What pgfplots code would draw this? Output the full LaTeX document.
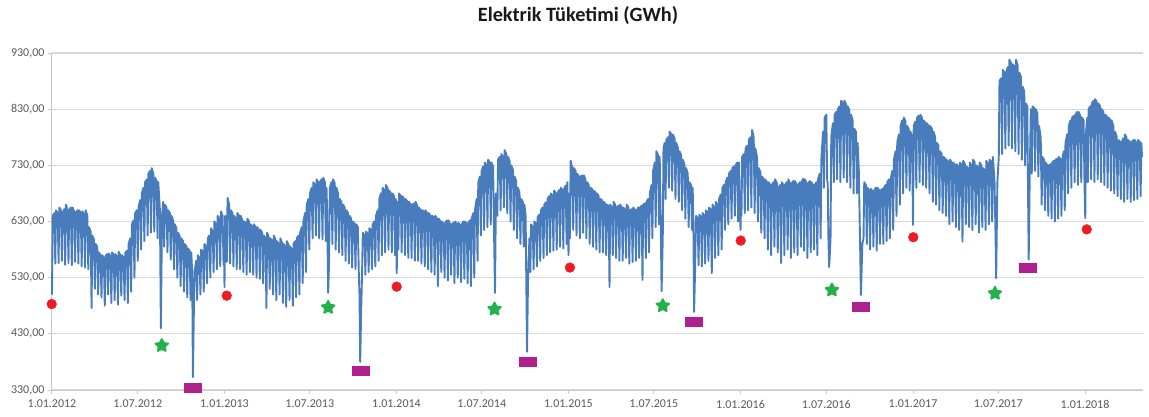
\documentclass[border=0pt]{standalone}
\usepackage{pgfplots}
\pgfplotsset{compat=1.18}
\usepackage{pgfplotstable}
\usepackage{fontspec}
\setmainfont{Carlito}
\definecolor{lineblue}{RGB}{72,124,188}
\definecolor{redc}{RGB}{237,28,36}
\definecolor{greenc}{RGB}{34,177,76}
\definecolor{magc}{RGB}{174,32,142}
\definecolor{gridc}{RGB}{217,217,217}
\definecolor{axisc}{RGB}{200,200,200}
\definecolor{labc}{RGB}{89,89,89}

\pgfdeclareplotmark{gstar}{%
 \pgfpathmoveto{\pgfpointpolar{90}{\pgfplotmarksize}}%
 \pgfpathlineto{\pgfpointpolar{126}{0.5\pgfplotmarksize}}%
 \pgfpathlineto{\pgfpointpolar{162}{\pgfplotmarksize}}%
 \pgfpathlineto{\pgfpointpolar{198}{0.5\pgfplotmarksize}}%
 \pgfpathlineto{\pgfpointpolar{234}{\pgfplotmarksize}}%
 \pgfpathlineto{\pgfpointpolar{270}{0.5\pgfplotmarksize}}%
 \pgfpathlineto{\pgfpointpolar{306}{\pgfplotmarksize}}%
 \pgfpathlineto{\pgfpointpolar{342}{0.5\pgfplotmarksize}}%
 \pgfpathlineto{\pgfpointpolar{18}{\pgfplotmarksize}}%
 \pgfpathlineto{\pgfpointpolar{54}{0.5\pgfplotmarksize}}%
 \pgfpathclose
 \pgfusepathqfillstroke}
\pgfdeclareplotmark{wrect}{%
 \pgfpathrectangle{\pgfpoint{-9pt}{-5pt}}{\pgfpoint{18pt}{10pt}}%
 \pgfusepathqfill}

\pgfplotstableread{
x y
0 500
1.5 640
5 645
7 555
8.5 650
12 645
14 556
15.5 655
19 650
21 560
22.5 645
26 652
28 553
29.5 660
33 650
35 556
36.5 650
40 655
42 552
43.5 655
47 648
49 558
50.5 645
54 650
56 555
57.5 650
61 645
63 550
64.5 648
68 642
70 548
71.5 650
75 640
77 545
78.5 620
82 612
84 476
85.5 605
89 598
91 510
92.5 590
96 585
98 500
99.5 575
103 570
105 495
106.5 570
110 565
112 480
113.5 568
117 572
119 500
120.5 573
124 568
126 485
127.5 575
131 570
133 490
134.5 572
138 566
140 482
141.5 576
145 570
147 498
148.5 570
152 566
154 490
155.5 574
159 578
161 485
162.5 590
166 600
168 505
169.5 625
173 632
175 530
176.5 645
180 650
182 560
183.5 655
187 668
189 580
190.5 680
194 690
196 595
197.5 700
201 705
203 605
204.5 715
208 720
210 610
211.5 725
215 715
217 612
218.5 708
222 702
224 600
225.5 700
229 650
231 440
233.5 640
236 665
238 585
239.5 660
243 655
245 575
246.5 650
250 645
252 562
253.5 640
257 632
259 545
260.5 625
264 618
266 530
267.5 610
271 604
273 515
274.5 600
278 595
280 505
281.5 590
285 586
287 495
288.5 582
292 578
294 490
295.5 575
297.5 540
299 353
301 470
302.5 540
306 560
308 490
309.5 570
313 565
315 500
316.5 580
320 576
322 505
323.5 590
327 585
329 520
330.5 600
334 605
336 530
337.5 618
341 612
343 540
344.5 630
348 625
350 545
351.5 640
355 635
357 550
358.5 648
362 640
364 553
365 620
366 513
367.5 640
369 630
371 558
372.5 672
376 660
378 555
379.5 650
383 645
385 550
386.5 640
390 635
392 545
393.5 645
397 640
399 545
400.5 640
404 632
406 540
407.5 630
411 628
413 535
414.5 635
418 630
420 540
421.5 625
425 620
427 535
428.5 625
432 620
434 530
435.5 620
439 615
441 528
442.5 615
446 610
448 520
449.5 605
453 600
455 476
456.5 610
460 602
462 510
463.5 600
467 595
469 500
470.5 605
474 598
476 490
477.5 595
481 590
483 500
484.5 600
488 592
490 485
491.5 590
495 585
497 478
498.5 595
502 588
504 490
505.5 585
509 580
511 480
512.5 590
516 595
518 495
519.5 600
523 605
525 500
526.5 610
530 620
532 520
533.5 630
537 645
539 540
540.5 660
544 670
546 580
547.5 680
551 690
553 600
554.5 700
558 695
560 605
561.5 705
565 700
567 600
568.5 700
572 705
574 598
575.5 708
579 700
581 595
582.5 690
584 640
586 503
588 560
589.5 690
593 700
595 590
596.5 705
600 698
602 580
603.5 690
607 680
609 575
610.5 670
614 665
616 570
617.5 660
621 655
623 560
624.5 650
628 645
630 555
631.5 640
635 635
637 548
638.5 630
642 626
644 545
645.5 625
649 620
651 540
652.5 500
654 380
656 470
658 540
659.5 610
663 605
665 535
666.5 612
670 608
672 540
673.5 618
677 615
679 545
680.5 625
684 630
686 550
687.5 640
691 650
693 560
694.5 670
698 680
700 570
701.5 690
705 685
707 575
708.5 695
712 690
714 580
715.5 685
719 680
721 575
722.5 680
726 675
728 570
729.5 670
731.5 538
733.5 665
735 580
736.5 680
740 675
742 575
743.5 675
747 670
749 570
750.5 670
754 665
756 565
757.5 665
761 660
763 565
764.5 660
768 662
770 560
771.5 665
775 658
777 560
778.5 655
782 650
784 555
785.5 650
789 648
791 550
792.5 650
796 645
798 545
799.5 645
803 640
805 540
806.5 640
810 638
812 535
813.5 640
817 635
819 515
820.5 635
824 630
826 540
827.5 630
831 625
833 530
834.5 628
838 632
840 525
841.5 632
845 625
847 535
848.5 625
852 628
854 520
855.5 630
859 625
861 530
862.5 628
866 622
868 522
869.5 625
873 630
875 528
876.5 630
880 625
882 520
883.5 628
887 632
889 515
890.5 635
894 645
896 530
897.5 650
901 670
903 560
904.5 700
908 710
910 605
911.5 720
915 728
917 615
918.5 735
922 730
924 620
925.5 740
929 735
931 625
932.5 735
936 728
938 610
940 503
942 680
945 640
946.5 740
950 745
952 650
953.5 750
957 745
959 655
960.5 757
964 750
966 645
967.5 745
971 738
973 630
974.5 730
978 722
980 615
981.5 710
985 702
987 600
988.5 690
992 682
994 590
995.5 670
999 665
1001 585
1002.5 660
1005 640
1008 398
1010 520
1013 600
1015 540
1016.5 625
1020 620
1022 545
1023.5 630
1027 626
1029 550
1030.5 638
1034 642
1036 560
1037.5 650
1041 655
1043 565
1044.5 660
1048 664
1050 570
1051.5 670
1055 675
1057 575
1058.5 680
1062 676
1064 578
1065.5 685
1069 680
1071 580
1072.5 680
1076 686
1078 585
1079.5 690
1083 686
1085 582
1086.5 688
1090 694
1092 590
1093.5 700
1096 570
1097.5 680
1099 600
1100.5 738
1104 725
1106 615
1107.5 725
1111 720
1113 605
1114.5 715
1118 710
1120 600
1121.5 710
1125 712
1127 610
1128.5 712
1132 705
1134 600
1135.5 700
1139 695
1141 590
1142.5 690
1146 688
1148 585
1149.5 685
1153 682
1155 580
1156.5 680
1160 675
1162 575
1163.5 670
1167 668
1169 575
1170.5 665
1174 662
1176 570
1177.5 660
1181 658
1183 513
1184.5 660
1188 655
1190 570
1191.5 665
1195 660
1197 565
1198.5 655
1202 658
1204 560
1205.5 660
1209 655
1211 560
1212.5 655
1216 650
1218 565
1219.5 660
1223 655
1225 555
1226.5 650
1230 652
1232 558
1233.5 655
1237 650
1239 560
1240.5 650
1244 655
1246 565
1247.5 655
1251 658
1253 526
1254.5 660
1258 662
1260 565
1261.5 665
1265 670
1267 575
1268.5 680
1272 695
1274 600
1275.5 720
1279 735
1281 620
1282.5 755
1286 748
1288 625
1289.5 745
1291.5 640
1293.5 506
1296 600
1297.5 760
1300 770
1302 670
1303.5 775
1307 780
1309 690
1310.5 790
1314 785
1316 685
1317.5 785
1321 778
1323 670
1324.5 770
1328 762
1330 665
1331.5 755
1335 748
1337 650
1338.5 740
1342 732
1344 635
1345.5 725
1349 715
1351 620
1352.5 700
1356 695
1358 615
1359.5 690
1361 620
1362.5 469
1364.5 540
1366.5 640
1370 636
1372 552
1373.5 642
1377 638
1379 550
1380.5 645
1384 640
1386 555
1387.5 650
1391 646
1393 560
1394.5 655
1398 650
1400 538
1401.5 660
1405 655
1407 565
1408.5 665
1412 660
1414 570
1415.5 670
1419 678
1421 580
1422.5 690
1426 695
1428 615
1429.5 700
1433 708
1435 625
1436.5 715
1440 720
1442 635
1443.5 725
1447 728
1449 640
1450.5 730
1454 735
1456 630
1457.5 735
1461 615
1462 660
1463 640
1464.5 745
1468 750
1470 645
1471.5 760
1475 765
1477 650
1478.5 775
1482 780
1484 655
1485.5 793
1489 780
1491 645
1492.5 760
1496 745
1498 630
1499.5 725
1503 718
1505 610
1506.5 710
1510 705
1512 600
1513.5 705
1517 700
1519 580
1520.5 700
1524 695
1526 570
1527.5 695
1531 700
1533 585
1534.5 705
1538 698
1540 575
1541.5 690
1545 695
1547 556
1548.5 700
1552 695
1554 570
1555.5 695
1559 700
1561 580
1562.5 705
1566 698
1568 565
1569.5 698
1573 702
1575 575
1576.5 702
1580 696
1582 570
1583.5 695
1587 700
1589 585
1590.5 700
1594 706
1596 578
1597.5 705
1601 698
1603 565
1604.5 698
1608 702
1610 575
1611.5 700
1615 694
1617 580
1618.5 695
1622 700
1624 570
1625.5 705
1629 715
1631 600
1632.5 740
1636 790
1638 690
1639.5 815
1643 820
1645 700
1646 700
1647.5 600
1649 549
1651 580
1652 600
1653.5 780
1657 805
1659 700
1660.5 820
1664 825
1666 705
1667.5 830
1671 835
1673 700
1674.5 845
1678 840
1680 708
1681.5 845
1685 838
1687 700
1688.5 835
1692 828
1694 690
1695.5 820
1699 810
1701 680
1702.5 795
1706 790
1708 680
1709.5 770
1712 720
1714.5 600
1716.5 499
1719.5 590
1722 600
1723.5 700
1727 695
1729 590
1730.5 690
1734 685
1736 580
1737.5 688
1741 684
1743 585
1744.5 685
1748 690
1750 578
1751.5 690
1755 686
1757 590
1758.5 685
1762 688
1764 590
1765.5 690
1769 695
1771 595
1772.5 700
1776 705
1778 600
1779.5 705
1783 720
1785 615
1786.5 740
1790 755
1792 640
1793.5 770
1797 785
1799 660
1800.5 800
1804 810
1806 680
1807.5 815
1811 808
1813 690
1814.5 800
1818 795
1820 685
1821.5 790
1825 780
1827 624
1828.5 800
1832 808
1834 690
1835.5 815
1839 818
1841 700
1842.5 820
1846 815
1848 695
1849.5 810
1853 806
1855 690
1856.5 805
1860 800
1862 680
1863.5 800
1867 795
1869 665
1870.5 790
1874 780
1876 660
1877.5 770
1881 765
1883 650
1884.5 755
1888 750
1890 645
1891.5 745
1895 742
1897 640
1898.5 740
1902 736
1904 625
1905.5 740
1909 735
1911 630
1912.5 735
1916 730
1918 620
1919.5 732
1923 728
1925 615
1926.5 735
1930 730
1932 594
1933.5 738
1937 732
1939 625
1940.5 728
1944 724
1946 620
1947.5 735
1951 730
1953 615
1954.5 740
1958 735
1960 625
1961.5 730
1965 726
1967 610
1968.5 735
1972 730
1974 620
1975.5 725
1979 722
1981 615
1982.5 738
1986 732
1988 625
1989.5 740
1993 736
1995 630
1996.5 745
2000 700
2002 610
2003.5 529
2006 700
2009 745
2010.5 880
2014 885
2016 750
2017.5 900
2021 895
2023 760
2024.5 895
2028 905
2030 765
2031.5 918
2035 912
2037 760
2038.5 910
2042 905
2044 755
2045.5 918
2049 908
2051 750
2052.5 895
2056 888
2058 740
2059.5 870
2063 862
2065 730
2066.5 840
2069.5 835
2071 690
2072.5 562
2074.5 700
2077 830
2079 715
2080.5 835
2084 832
2086 720
2087.5 830
2091 822
2093 710
2094.5 800
2098 780
2100 660
2101.5 745
2105 740
2107 650
2108.5 735
2112 730
2114 640
2115.5 730
2119 732
2121 635
2122.5 735
2126 738
2128 630
2129.5 740
2133 742
2135 635
2136.5 745
2140 740
2142 640
2143.5 740
2147 755
2149 650
2150.5 770
2154 785
2156 680
2157.5 800
2161 810
2163 690
2164.5 815
2168 818
2170 700
2171.5 820
2175 825
2177 695
2178.5 825
2182 818
2184 700
2185.5 815
2189 810
2191 690
2192.5 636
2194 790
2197 815
2198 700
2199.5 830
2203 835
2205 705
2206.5 840
2210 845
2212 700
2213.5 848
2217 842
2219 705
2220.5 840
2224 835
2226 700
2227.5 830
2231 825
2233 695
2234.5 820
2238 818
2240 690
2241.5 815
2245 812
2247 685
2248.5 810
2252 800
2254 680
2255.5 790
2259 782
2261 675
2262.5 775
2266 772
2268 670
2269.5 770
2273 778
2275 665
2276.5 785
2280 780
2282 670
2283.5 775
2287 772
2289 665
2290.5 770
2294 775
2296 668
2297.5 775
2301 770
2303 670
2304.5 775
2308 772
2310 675
2311.5 770
2313 745
}\elec

\pgfplotstableread{
x y
-0.6 483
370.7 498
731.4 514
1099 548
1461.4 596
1827.6 602
2195.6 616
}\newyear

\pgfplotstableread{
x y
233 409
586 477
939 474
1296 480
1655 508
2001 502
}\ramazan

\pgfplotstableread{
x y
298.5 334
655 364
1009.5 379
1362 451
1716 477
2072 547
}\kurban

\begin{document}
\begin{tikzpicture}
\useasboundingbox (0,0) rectangle (1149pt,416pt);
\begin{axis}[
  at={(52pt,26pt)}, anchor=south west,
  width=1091pt, height=337pt, scale only axis,
  xmin=0, xmax=2315, ymin=330, ymax=930,
  axis lines=left,
  axis line style={-, draw=axisc, line width=1pt},
  clip=false,
  ytick={330,430,530,630,730,830,930},
  xtick={0,182,366,547,731,912,1096,1277,1461,1643,1827,2008,2192},
  xticklabels={1.01.2012,1.07.2012,1.01.2013,1.07.2013,1.01.2014,1.07.2014,1.01.2015,1.07.2015,1.01.2016,1.07.2016,1.01.2017,1.07.2017,1.01.2018},
  ymajorgrids,
  grid style={draw=gridc, line width=1.2pt},
  tick align=outside,
  major tick length=4pt,
  tick style={draw=axisc, line width=1pt},
  ticklabel style={font=\fontsize{12}{14}\selectfont, text=labc},
  xticklabel style={yshift=-2.5pt},
  yticklabel style={/pgf/number format/.cd, fixed, fixed zerofill, precision=2, use comma, 1000 sep={}, assume math mode=true},
  /pgf/number format/assume math mode=true,
]
\addplot[color=lineblue, line width=1.9pt, line join=round, mark=none] table {\elec};
\addplot[only marks, mark=*, mark size=4.9pt, mark options={fill=redc, draw=redc, line width=0.4pt}] table {\newyear};
\addplot[only marks, mark=gstar, mark size=6.6pt, mark options={fill=greenc, draw=greenc, line width=1.8pt, line join=round}] table {\ramazan};
\addplot[only marks, mark=wrect, mark options={fill=magc, draw=none}] table {\kurban};
\end{axis}
\node[font=\fontsize{20.3}{24}\selectfont\bfseries, text=black!90] at (578pt,400pt) {Elektrik Tüketimi (GWh)};
\end{tikzpicture}
\end{document}
